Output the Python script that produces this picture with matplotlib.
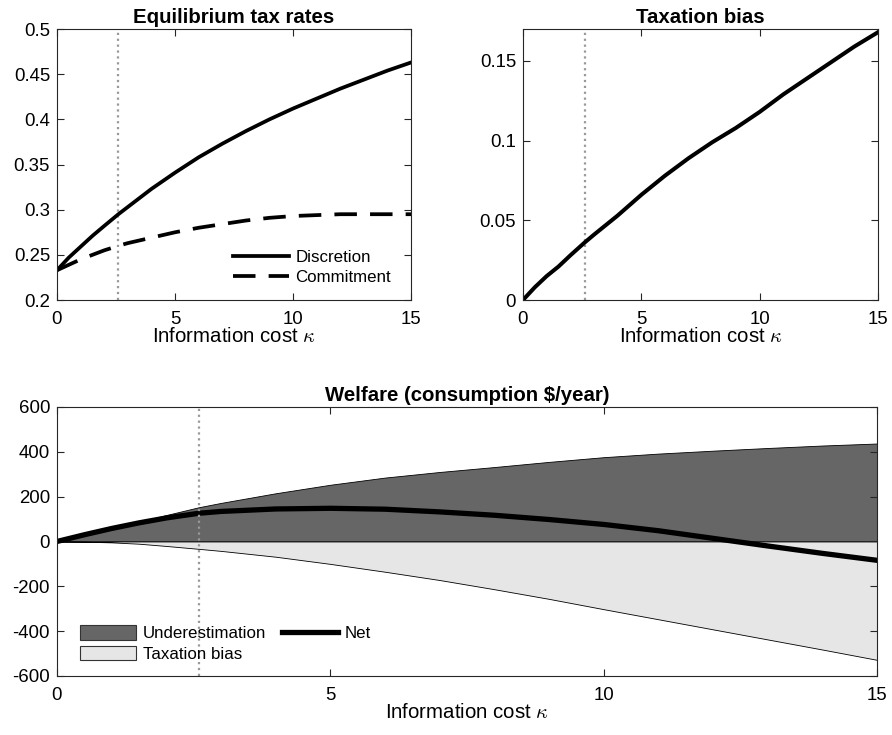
import numpy as np
import matplotlib
matplotlib.use('Agg')
import matplotlib.pyplot as plt
from matplotlib.ticker import FormatStrFormatter
from matplotlib.patches import Patch
from matplotlib.lines import Line2D

plt.rcParams['font.family'] = ['Liberation Sans', 'DejaVu Sans']
plt.rcParams['mathtext.fontset'] = 'cm'
plt.rcParams['axes.unicode_minus'] = False

# information cost grid
kappa = [0, 0.5, 1, 1.5, 2, 2.6, 3, 4, 5, 6, 7, 8, 9, 10, 11, 12, 13, 14, 15]

# equilibrium tax rates
discretion = [0.233, 0.247, 0.259, 0.271, 0.282, 0.295, 0.303, 0.323, 0.341, 0.358,
              0.373, 0.387, 0.400, 0.412, 0.423, 0.434, 0.444, 0.454, 0.463]
commitment = [0.233, 0.239, 0.245, 0.250, 0.255, 0.260, 0.263, 0.269, 0.275, 0.280,
              0.284, 0.288, 0.291, 0.293, 0.294, 0.295, 0.295, 0.295, 0.295]

# taxation bias
tax_bias = [0, 0.008, 0.015, 0.021, 0.028, 0.036, 0.041, 0.053, 0.066, 0.078,
            0.089, 0.099, 0.108, 0.118, 0.129, 0.139, 0.149, 0.159, 0.168]

# welfare ($/year)
w_under = [0, 30, 60, 88, 118, 153, 172, 215, 253, 285, 310, 332, 355, 376, 392, 405, 417, 428, 437]
w_bias = [0, -1, -4, -10, -20, -33, -42, -68, -100, -135, -172, -213, -256, -302, -347, -392, -437, -482, -528]
w_net = [0, 30, 58, 83, 105, 126, 134, 145, 148, 144, 132, 117, 98, 76, 48, 14, -20, -53, -84]

kappa_cal = 2.6

FS = 13.4      # tick labels
FS_LAB = 14.7  # titles and axis labels
FS_LEG = 12.2
xlab = r'Information cost $\kappa$'


def style(ax):
    ax.tick_params(direction='in', top=True, right=True, labelsize=FS, length=5,
                   color='#262626')
    ax.tick_params(axis='y', pad=5)
    ax.tick_params(axis='x', pad=8)
    for s in ax.spines.values():
        s.set_color('#262626')
        s.set_linewidth(0.8)


fig = plt.figure(figsize=(8.92, 7.35), dpi=100)

# top left
ax1 = fig.add_axes([0.0639, 0.5918, 0.397, 0.3687])
ax1.axvline(kappa_cal, color='#999999', ls=':', lw=1.6)
ax1.plot(kappa, discretion, color='black', lw=2.7, label='Discretion')
ax1.plot(kappa, commitment, color='black', lw=2.7, ls=(0, (6, 3.5)), label='Commitment')
ax1.set_xlim(0, 15)
ax1.set_ylim(0.2, 0.5)
ax1.set_xticks([0, 5, 10, 15])
ax1.set_yticks(np.arange(0.2, 0.501, 0.05))
ax1.yaxis.set_major_formatter(FormatStrFormatter('%g'))
ax1.set_title('Equilibrium tax rates', fontsize=FS_LAB, fontweight='bold', pad=4)
ax1.set_xlabel(xlab, fontsize=FS_LAB, labelpad=-1)
ax1.legend(loc='lower right', bbox_to_anchor=(0.943, 0.057), frameon=False,
           fontsize=FS_LEG, handlelength=3.3, handletextpad=0.4, labelspacing=0.25,
           borderpad=0, borderaxespad=0)
style(ax1)

# top right
ax2 = fig.add_axes([0.5863, 0.5918, 0.398, 0.3687])
ax2.axvline(kappa_cal, color='#999999', ls=':', lw=1.6)
ax2.plot(kappa, tax_bias, color='black', lw=2.9)
ax2.set_xlim(0, 15)
ax2.set_ylim(0, 0.17)
ax2.set_xticks([0, 5, 10, 15])
ax2.set_yticks([0, 0.05, 0.1, 0.15])
ax2.yaxis.set_major_formatter(FormatStrFormatter('%g'))
ax2.set_title('Taxation bias', fontsize=FS_LAB, fontweight='bold', pad=4)
ax2.set_xlabel(xlab, fontsize=FS_LAB, labelpad=-1)
style(ax2)

# bottom
ax3 = fig.add_axes([0.0639, 0.0803, 0.9193, 0.366])
ax3.fill_between(kappa, 0, w_under, facecolor='#666666', edgecolor='black', lw=0.6)
ax3.fill_between(kappa, 0, w_bias, facecolor='#e6e6e6', edgecolor='black', lw=0.6)
ax3.plot(kappa, w_net, color='black', lw=3.8)
ax3.axvline(kappa_cal, color='#999999', ls=':', lw=1.6)
ax3.set_xlim(0, 15)
ax3.set_ylim(-600, 600)
ax3.set_xticks([0, 5, 10, 15])
ax3.set_yticks(np.arange(-600, 601, 200))
ax3.set_title('Welfare (consumption \\$/year)', fontsize=FS_LAB, fontweight='bold', pad=4)
ax3.set_xlabel(xlab, fontsize=FS_LAB, labelpad=-1)
handles = [Patch(facecolor='#666666', edgecolor='#333333', lw=0.8),
           Patch(facecolor='#e6e6e6', edgecolor='#333333', lw=0.8),
           Line2D([], [], color='black', lw=3.8)]
ax3.legend(handles, ['Underestimation', 'Taxation bias', 'Net'], ncol=2,
           loc='lower left', bbox_to_anchor=(0.028, 0.053), frameon=False,
           fontsize=FS_LEG, handlelength=3.3, handleheight=0.95, handletextpad=0.4,
           labelspacing=0.25, columnspacing=0.95, borderpad=0, borderaxespad=0)
style(ax3)

fig.savefig('out.png', dpi=100)
